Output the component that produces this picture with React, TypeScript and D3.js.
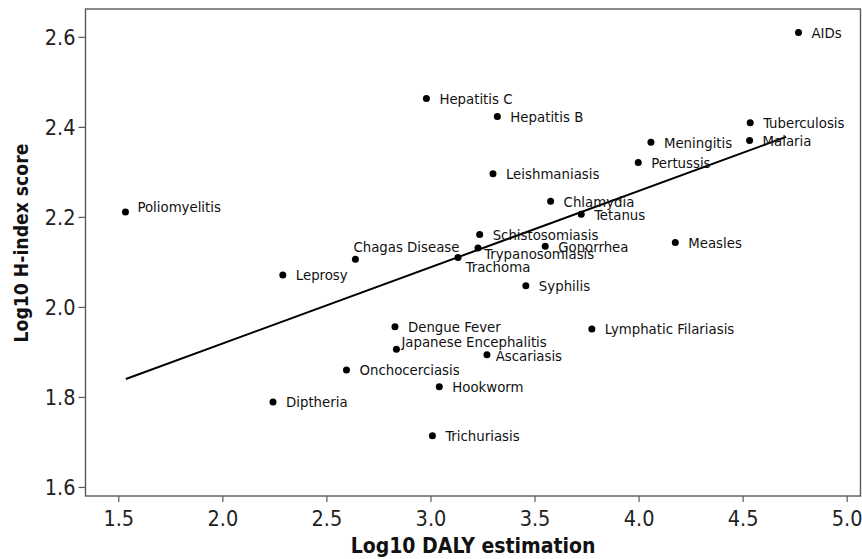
import React from 'react';
import * as d3 from 'd3';

const diseases = [
  'AIDs', 'Tuberculosis', 'Malaria', 'Meningitis', 'Pertussis', 'Hepatitis C', 'Hepatitis B',
  'Leishmaniasis', 'Chlamydia', 'Tetanus', 'Schistosomiasis', 'Gonorrhea', 'Trypanosomiasis',
  'Trachoma', 'Measles', 'Chagas Disease', 'Poliomyelitis', 'Leprosy', 'Syphilis',
  'Lymphatic Filariasis', 'Dengue Fever', 'Japanese Encephalitis', 'Ascariasis',
  'Onchocerciasis', 'Hookworm', 'Diptheria', 'Trichuriasis',
];
const dalyLog = [
  4.766, 4.534, 4.531, 4.057, 3.996, 2.978, 3.319,
  3.298, 3.575, 3.722, 3.234, 3.549, 3.226,
  3.130, 4.174, 2.637, 1.532, 2.288, 3.456,
  3.773, 2.827, 2.834, 3.269,
  2.594, 3.040, 2.241, 3.007,
];
const hindexLog = [
  2.611, 2.410, 2.371, 2.367, 2.322, 2.464, 2.424,
  2.297, 2.236, 2.207, 2.162, 2.136, 2.132,
  2.111, 2.144, 2.107, 2.212, 2.072, 2.048,
  1.952, 1.957, 1.907, 1.895,
  1.861, 1.824, 1.790, 1.715,
];
const xTicks = [1.5, 2.0, 2.5, 3.0, 3.5, 4.0, 4.5, 5.0];
const yTicks = [1.6, 1.8, 2.0, 2.2, 2.4, 2.6];
const fitX = [1.534, 4.707];
const fitY = [1.841, 2.379];
const xTitle = 'Log10 DALY estimation';
const yTitle = 'Log10 H-index score';

// label placement tweaks (layout only): [dx, baseline dy]
const labelOffset: Record<string, [number, number]> = {
  'Chagas Disease': [-2, -7],
  'Trypanosomiasis': [6.3, 11.5],
  'Trachoma': [7.7, 14.5],
  'Japanese Encephalitis': [5, -2.6],
  'Ascariasis': [8.7, 6.4],
  'Poliomyelitis': [12, 0],
};

const W = 862;
const H = 559;
const FONT = '"DejaVu Sans", Verdana, sans-serif';

export default function App() {
  const x = d3.scaleLinear().domain([1.34, 5.064]).range([85.5, 860.5]);
  const y = d3.scaleLinear().domain([1.581, 2.663]).range([496, 9]);
  const line = d3.line<number>().x((d, i) => x(fitX[i])).y((d, i) => y(fitY[i]));
  const [x0, x1] = x.range();
  const [y0, y1] = y.range();
  const frame = '#5a5a5a';
  const cond = { fontStretch: 'condensed' as const };
  return (
    <svg width={W} height={H} style={{ position: 'absolute', left: 0, top: 0, background: '#fff' }}
      fontFamily={FONT}>
      <rect x={x0} y={y1} width={x1 - x0} height={y0 - y1} fill="none" stroke={frame} strokeWidth={1.4} />
      {xTicks.map((t) => (
        <g key={'x' + t}>
          <line x1={x(t)} x2={x(t)} y1={y0} y2={y0 + 6} stroke={frame} strokeWidth={1.2} />
          <text x={x(t)} y={526} textAnchor="middle" fontSize={21.5} fill="#222" style={cond}>{t.toFixed(1)}</text>
        </g>
      ))}
      {yTicks.map((t) => (
        <g key={'y' + t}>
          <line x1={x0 - 7} x2={x0} y1={y(t)} y2={y(t)} stroke={frame} strokeWidth={1.2} />
          <text x={x0 - 10} y={y(t) + 7.8} textAnchor="end" fontSize={21.5} fill="#222" style={cond}>{t.toFixed(1)}</text>
        </g>
      ))}
      <text x={(x0 + x1) / 2} y={553} textAnchor="middle" fontSize={21} fontWeight="bold" fill="#111"
        style={cond}>{xTitle}</text>
      <text transform={`translate(27.5, 243) rotate(-90)`} textAnchor="middle" fontSize={19.2}
        fontWeight="bold" fill="#111" style={cond}>{yTitle}</text>
      <path d={line(fitX) || ''} fill="none" stroke="#000" strokeWidth={2} />
      {diseases.map((name, i) => {
        const cx = x(dalyLog[i]);
        const cy = y(hindexLog[i]);
        const off = labelOffset[name] || [13, 5.4];
        return (
          <g key={name}>
            <circle cx={cx} cy={cy} r={3.5} fill="#000" />
            <text x={cx + off[0]} y={cy + off[1]} fontSize={14.8} fill="#111" style={cond}>{name}</text>
          </g>
        );
      })}
    </svg>
  );
}
